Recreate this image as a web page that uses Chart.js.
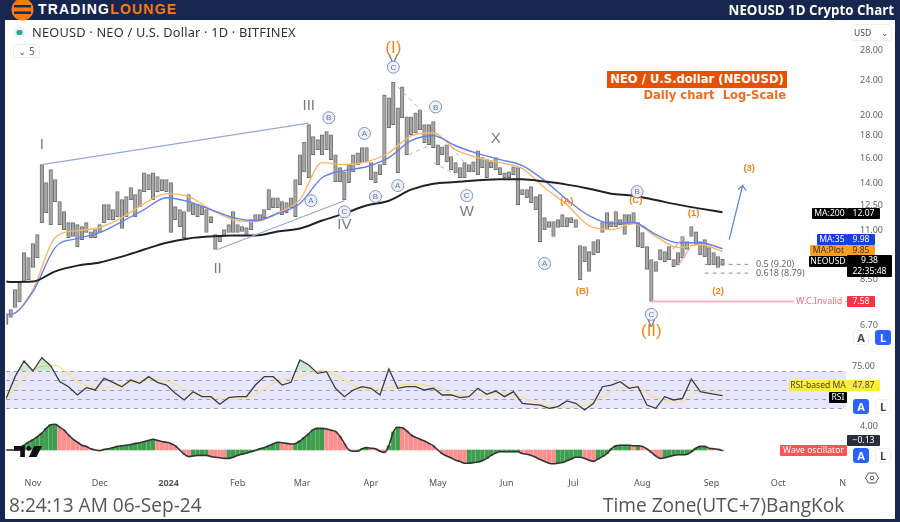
<!DOCTYPE html>
<html>
<head>
<meta charset="utf-8">
<title>NEOUSD 1D Crypto Chart</title>
<script src="https://cdn.jsdelivr.net/npm/chart.js@4/dist/chart.umd.min.js"></script>
<style>
  html, body { margin: 0; padding: 0; background: #fff; }
  #page { position: relative; width: 900px; height: 522px; overflow: hidden; font-family: "Open Sans", sans-serif; background: #fff; filter: blur(.35px); }
  canvas { position: absolute; left: 0; top: 0; }
  .frame { position: absolute; background: #16264f; }
  .t { position: absolute; white-space: nowrap; }
  .box { position: absolute; white-space: nowrap; text-align: center; font-size: 8.6px; line-height: 11px; height: 11px; border-radius: 1px; font-family: "Noto Sans", sans-serif; }
  .btn { position: absolute; width: 16px; height: 15px; border-radius: 3px; text-align: center; font: bold 11px/15px "Noto Sans", sans-serif; }
  .on { background: #2962ff; color: #fff; }
  .off { background: #fff; color: #444; border: 1px solid #eee; box-sizing: border-box; line-height: 13px; }
</style>
</head>
<body>
<div id="page">
  <canvas id="chart" width="900" height="522"></canvas>

  <div class="frame" style="left:0;top:0;width:900px;height:20px"></div>
  <div class="frame" style="left:0;top:0;width:5px;height:522px"></div>
  <div class="frame" style="left:895px;top:0;width:5px;height:522px"></div>
  <div class="frame" style="left:0;top:519px;width:900px;height:3px"></div>

  <svg style="position:absolute;left:11px;top:0" width="24" height="21" viewBox="0 0 24 21">
    <circle cx="11.5" cy="9.5" r="11" fill="#f47a12"/>
    <rect x="3" y="5" width="17" height="2.4" fill="#16264f"/>
    <rect x="3" y="11.5" width="17" height="2.4" fill="#16264f"/>
  </svg>
  <div class="t" style="left:38px;top:0;font:bold 14px/19px 'Liberation Sans',sans-serif;letter-spacing:1.2px;color:#fff">TRADING<span style="color:#f47a12">LOUNGE</span></div>
  <div class="t" style="right:6px;top:0;font:bold 13.3px/21px 'Open Sans',sans-serif;color:#fff">NEOUSD 1D Crypto Chart</div>

  <svg style="position:absolute;left:13px;top:26px" width="13" height="13" viewBox="0 0 13 13">
    <circle cx="6.5" cy="6.5" r="6" fill="#eef2f5"/><rect x="3.5" y="4" width="6" height="5" rx="2" fill="#1fae8c"/>
  </svg>
  <div class="t" style="left:32px;top:24px;font:12.8px/17px 'Noto Sans',sans-serif;color:#333;letter-spacing:.2px">NEOUSD · NEO / U.S. Dollar · 1D · BITFINEX</div>
  <div class="t" style="left:13px;top:44px;width:27px;height:14px;border:1px solid #eee;border-radius:3px;box-sizing:border-box;font:10px/12px 'Noto Sans',sans-serif;color:#666;text-align:center">⌄ 5</div>
  <div class="t" style="left:851px;top:24px;width:41px;height:17px;box-sizing:border-box;border:1px solid #f0f0f0;border-radius:3px;font:8.5px/15px 'Noto Sans',sans-serif;color:#444;padding-left:2px">USD <span style="margin-left:8px">⌄</span></div>

  <div class="t" style="left:607px;top:71px;width:180px;height:17px;background:#e65100;color:#fff;font:bold 11.6px/17px 'DejaVu Sans',sans-serif;text-align:center">NEO / U.S.dollar (NEOUSD)</div>
  <div class="t" style="right:114px;top:87px;color:#f26a21;font:bold 11.6px/16px 'DejaVu Sans',sans-serif;white-space:pre">Daily chart  Log-Scale</div>

  <div class="t" style="left:756px;top:258px;font:9px/12px 'Noto Sans',sans-serif;color:#666">0.5 (9.20)</div>
  <div class="t" style="left:756px;top:267px;font:9px/12px 'Noto Sans',sans-serif;color:#666">0.618 (8.79)</div>
  <div class="t" style="left:796px;top:295px;font:9px/12px 'Noto Sans',sans-serif;color:#f2707c">W.C.Invalid -</div>

  <div class="box" style="left:812px;top:208px;width:35px;background:#000;color:#fff">MA:200</div>
  <div class="box" style="left:847px;top:208px;width:33px;background:#000;color:#fff">12.07</div>
  <div class="box" style="left:817px;top:234px;width:30px;background:#1a3fe0;color:#fff">MA:35</div>
  <div class="box" style="left:847px;top:234px;width:28px;background:#1a3fe0;color:#fff">9.98</div>
  <div class="box" style="left:810px;top:245px;width:37px;background:#ff9f1c;color:#333">MA:Plot</div>
  <div class="box" style="left:847px;top:245px;width:28px;background:#ff9f1c;color:#333">9.85</div>
  <div class="box" style="left:809px;top:256px;width:38px;background:#000;color:#fff">NEOUSD</div>
  <div class="box" style="left:847px;top:255px;width:45px;height:22px;background:#000;color:#fff">9.38<br>22:35:48</div>
  <div class="box" style="left:847px;top:296px;width:28px;background:#f23645;color:#fff">7.58</div>

  <div class="box" style="left:789px;top:380px;width:58px;background:#ffeb3b;color:#444">RSI-based MA</div>
  <div class="box" style="left:847px;top:380px;width:33px;background:#ffeb3b;color:#444">47.87</div>
  <div class="box" style="left:829px;top:392px;width:18px;background:#000;color:#fff">RSI</div>
  <div class="box" style="left:847px;top:435px;width:33px;background:#2a2e39;color:#fff">−0.13</div>
  <div class="box" style="left:780px;top:445px;width:67px;background:#ff5252;color:#fff">Wave oscillator</div>

  <div class="btn off" style="left:853px;top:330px">A</div>
  <div class="btn on" style="left:875px;top:330px">L</div>
  <div class="btn on" style="left:853px;top:399px">A</div>
  <div class="btn off" style="left:875px;top:399px">L</div>
  <div class="btn on" style="left:853px;top:448px">A</div>
  <div class="btn off" style="left:875px;top:448px">L</div>

  <svg style="position:absolute;left:14px;top:445px" width="28" height="13" viewBox="0 0 36 14">
    <path d="M0 0h14v14h-6v-8h-8z M26 0h10l-7 14h-10z" fill="#111"/><circle cx="19" cy="3" r="3" fill="#111"/>
  </svg>
  <svg style="position:absolute;left:865px;top:472px" width="14" height="12" viewBox="0 0 14 12">
    <path d="M3.5 1h7L13.5 6l-3 5h-7L.5 6z" fill="none" stroke="#555"/><circle cx="7" cy="6" r="1.8" fill="none" stroke="#555"/>
  </svg>

  <div class="t" style="left:9px;top:491px;font:19.1px/28px 'Open Sans',sans-serif;color:#555">8:24:13 AM 06-Sep-24</div>
  <div class="t" style="left:603px;top:491px;font:19.1px/28px 'Open Sans',sans-serif;color:#555">Time Zone(UTC+7)BangKok</div>
</div>

<script>
// days are counted from 1 Nov 2023
var monthDays = [0, 30, 61, 92, 121, 152, 182, 213, 243, 274, 305, 335, 364];
var monthLabels = ["Nov", "Dec", "2024", "Feb", "Mar", "Apr", "May", "Jun", "Jul", "Aug", "Sep", "Oct", "N"];
var priceTicks = [28, 24, 20, 18, 16, 14, 12.5, 11, 8.5, 6.7];

// one bar per two days, starting 20 Oct 2023
var priceHighs = [7.09, 7.27, 8.07, 8.37, 9.78, 9.53, 10.25, 10.75, 15.47, 14.08, 15.07, 14.31, 12.76, 12.12, 11.44, 11.44, 11.32, 11.2, 11.44, 10.9, 11.03, 11.32, 12.56, 12.56, 12.24, 13.44, 12.89, 13.09, 13.72, 13.23, 13.58, 14.83, 14.68, 14.83, 14.53,
  14.31, 14.31, 14.08, 12.43, 12.24, 12.12, 13.23, 12.63, 12.56, 12.43, 12.24, 11.8, 10.75, 10.64, 11.03, 11.32, 12.12, 11.32, 11.2, 11.15, 11.62, 11.92, 11.92, 12.24, 13.58, 13.02, 13.02, 12.76, 12.69, 13.02, 14.31, 16.29, 17.39, 19.05, 17.9, 17.62, 18.08, 18.37, 18.08, 16.29, 15.23, 14.9, 15.47, 16.29, 16.46, 16.9, 16.9, 15.63, 14.9, 15.47, 22.26, 21.9, 23.8, 20.8, 23.2, 19.85, 19.85, 20.26, 20.59, 19.05, 19.05, 19.35, 17.16, 16.98, 17.16,
  16.13, 15.63, 15.23, 15.63, 15.47, 15.7, 16.63, 16.04, 15.88, 15.7, 16.04, 15.23, 14.83, 14.9, 15.3, 15.23, 13.58, 13.58, 13.8, 13.09, 13.23, 11.74, 11.5, 11.5, 11.62, 11.92, 11.74, 11.74, 11.62, 10.15, 10.1, 9.83, 10.36, 10.47, 11.44, 12.05, 11.5, 12.12, 11.62, 11.92, 11.92, 12.05, 11.44, 10.86, 10.09, 9.43, 9.33, 9.94, 9.83, 10.09, 9.43, 9.78, 10.64, 10.36, 11.2, 10.9, 10.36, 10.47, 10.04, 9.78, 9.58, 9.45];
var priceLows = [6.73, 6.98, 7.35, 7.56, 8.41, 8.5, 9.05, 9.53, 11.44, 12.05, 11.32, 12.76, 11.32, 11.03, 10.58, 10.64, 10.09, 10.47, 10.86, 10.58, 10.58, 10.86, 11.44, 11.62, 11.62, 11.8, 11.09, 11.8, 12.89, 11.8, 12.43, 13.44, 13.58, 12.89, 13.44,
  13.5, 13.44, 10.86, 11.62, 11.2, 10.58, 12.12, 11.92, 11.8, 11.92, 10.86, 11.44, 9.94, 10.36, 10.64, 10.86, 10.86, 10.86, 10.92, 10.75, 11.03, 11.5, 11.62, 11.74, 12.24, 12.37, 12.37, 11.92, 12.05, 12.37, 11.8, 13.94, 14.9, 14.45, 16.29, 16.72, 16.29, 16.72, 15.88, 14.16, 14.16, 12.89, 14.08, 14.9, 15.47, 15.63, 15.7, 14.31, 14.08, 14.68, 15.47, 18.75, 19.05, 14.83, 19.75, 16.29, 18.08, 18.27, 18.56, 17.34, 17.16, 16.9, 15.47, 16.29, 15.7,
  15.07, 14.83, 14.45, 14.45, 14.9, 14.9, 14.68, 15.23, 14.45, 15.23, 15.07, 14.68, 14.45, 14.45, 14.68, 12.56, 13.23, 13.02, 12.69, 12.24, 10.36, 11.03, 11.15, 10.64, 11.15, 11.2, 11.2, 11.44, 11.15, 8.5, 9.33, 8.87, 9.68, 9.78, 10.86, 11.03, 11.2, 11.2, 11.32, 10.75, 11.32, 11.44, 10.09, 10.04, 8.96, 7.58, 8.87, 9.43, 9.33, 9.43, 9.09, 9.19, 9.53, 9.94, 10.64, 10.2, 9.68, 9.58, 9.19, 9.19, 9.05, 9.15];

// moving averages and the RSI average, read every ten days
var maDays = [-12, -10, 0, 10, 20, 30, 40, 50, 60, 70, 80, 90, 100, 110, 120, 130, 140, 150, 160, 170, 180, 190, 200, 210, 220, 230, 240, 250, 260, 270, 280, 290, 300, 310];
var ma35 = [7.09, 7.09, 7.98, 10.04, 10.53, 10.86, 11.5, 12.24, 13.02, 12.76, 12.24, 11.74, 11.56, 11.98, 12.63, 14.45, 15, 15.3, 16.04, 17.53, 17.98, 17.07, 16.38, 15.88, 15.39, 14.23, 12.89, 11.86, 11.38, 11.44, 10.75, 10.3, 10.3, 9.98];
var maPlot = [7.09, 7.09, 8.07, 10.58, 10.97, 11.15, 11.74, 12.63, 13.3, 13.09, 12.24, 11.62, 11.5, 12.05, 12.89, 15.63, 15.47, 15.7, 16.46, 17.98, 18.27, 16.72, 16.04, 15.63, 15.15, 13.72, 12.56, 11.26, 11.03, 11.38, 10.64, 10.04, 10.2, 9.85];
var ma200 = [8.41, 8.39, 8.41, 8.87, 9.14, 9.29, 9.58, 9.94, 10.3, 10.53, 10.64, 10.7, 10.7, 10.92, 11.09, 11.56, 12, 12.5, 12.82, 13.58, 14, 14.13, 14.26, 14.34, 14.34, 14.16, 13.94, 13.65, 13.3, 13.16, 12.86, 12.56, 12.3, 12.07];
var rsiMa = [41.1, 46.5, 71.3, 75.9, 58.9, 51.8, 56, 61, 59.6, 48.9, 42.9, 40.1, 45.4, 58.9, 64.2, 70.9, 60.6, 50, 52.5, 56.4, 53.5, 44.7, 44, 47.2, 41.8, 34, 31.6, 35.8, 48.2, 53.9, 41.8, 36.9, 48.6, 47.87];

// RSI read every four days, the last point is 6 Sep
var rsiValues = [41.1, 64.2, 80.9, 70.2, 84.4, 75.9, 58.9, 53.5, 44.7, 52.5, 50, 62.4, 58.2, 53.5, 60.6, 57.1, 64.2, 58.2, 55.3, 46.5, 39.4, 48.2, 42.9, 42.9, 34.8, 41.8, 42.9, 42.9, 55.3, 64.2, 64.2, 55.3, 58.2, 81.9, 76.6, 67.7, 69.5, 51.8, 42.9, 50, 53.5, 51.8, 44.7, 72.3, 51.8, 53.5, 53.5, 50, 51.8, 44.7,
  44.7, 41.8, 42.9, 51.8, 45.4, 48.9, 42.9, 48.2, 35.8, 34.8, 34, 30.5, 32.3, 38.3, 35.8, 28.7, 35.8, 53.5, 55.3, 58.9, 51.8, 53.5, 34, 30.5, 42.9, 39.4, 41.1, 61.7, 48.2, 46.5, 44.7, 44];
var rsiLevels = [30, 40, 50, 60, 70, 75];

// wave oscillator, same days as the price bars
var oscValues = [0, 0, 0, .4, .8, 1.3, 1.7, 2.2, 2.8, 3.6, 4.2, 4.3, 3.8, 3.3, 2.5, 1.8, 1.3, .8, .6, .2, 0, -.1, .1, .2, .4, .6, .7, .8, .9, 1.1, 1.2, 1.4, 1.6, 1.8, 1.6, 1.4, 1.3, 1.1, .7, 0, -.7, -1.1, -1, -.9, -.9, -.9, -1.1, -1.2, -1.3, -1.4, -1.4, -1.2, -.9, -.7, -.5, -.3, -.1, .2, .4, .7, 1, 1.3, 1.2, 1.1, 1, 1.1, 1.5, 2.1, 2.7, 3.4, 3.6, 3.6, 3.5, 3.3, 3.1, 2.3, 1.1, 0, -.2, -.2, .2, .4, .3, .2, -.2, -.4, .7, 3, 3.8, 3.7, 3.2, 2.5, 2.1, 1.8, 1.5, 1.1, .7, 0, -.6, -1,
  -1.3, -1.7, -1.9, -2.2, -2.2, -2.1, -2, -1.8, -1.4, -.9, -.5, -.3, -.3, -.3, -.3, -.3, -.6, -.7, -.9, -1.2, -1.6, -1.9, -2.2, -2.3, -2.2, -2.1, -1.8, -1.5, -1.2, -1.2, -1.4, -1.7, -1.9, -1.5, -1.1, -.6, .2, .7, .8, .8, .8, .7, .7, .6, .2, -.4, -1, -1.4, -1.3, -1.1, -.9, -.8, -.8, -.7, -.3, .3, .6, .6, .3, .2, .1, -.13];

// wave labels
var romanTexts = ["I", "II", "III", "IV", "V", "W", "X", "V"];
var romanDays = [4, 83, 124, 140, 278, 195, 208, 162];
var romanPrices = [17.16, 9, 21, 11.32, 6.78, 12.1, 17.7, 26.7];
var circleTexts = ["B", "A", "C", "B", "A", "C", "B", "A", "C", "B", "A", "C"];
var circleDays = [133, 149, 162, 181, 125, 140, 154, 164, 195, 271.6, 230, 278];
var circlePrices = [19.75, 18.2, 25.7, 20.9, 12.82, 12.1, 13.1, 13.87, 13.16, 13.44, 9.24, 7.09];
var bigTexts = ["(I)", "(II)"];
var bigDays = [162, 278];
var bigPrices = [28.4, 6.5];
var smallTexts = ["(A)", "(B)", "(C)", "(1)", "(2)", "(3)"];
var smallDays = [240, 247, 271, 297, 308, 322];
var smallPrices = [12.76, 7.98, 12.82, 12, 8, 15.2];

// drawn lines
var impulseLines = [[[4, 124], [15.47, 19.2]], [[83, 140], [9.94, 12.82]]];
var channelLines = [[[164, 175], [23.2, 20.4]], [[180, 190], [15.63, 14.7]], [[169, 177], [16.3, 16.98]], [[188, 194], [17, 15.6]]];
var pinkLines = [[[287.5, 293], [9.94, 10.64]], [[290, 295.5], [9.14, 10.04]]];
var fibLines = [[[302, 321.5], [9.2, 9.2]], [[302, 321.5], [8.79, 8.79]]];
var invalidDays = [278, 342];
var invalidPrices = [7.58, 7.58];
var arrowDays = [313, 319, 317, 319, 320.6];
var arrowPrices = [10.47, 13.87, 13.58, 13.87, 13.51];

var FIRST_DAY = -12;
var X_MIN = -12.1, X_MAX = 365.5;
var LABEL_FONT = "'Liberation Sans', sans-serif";

function xy(days, values) {
  return values.map(function (v, i) { return { x: days[i], y: v }; });
}

function lineSet(days, values, axis, color, width, extra) {
  var ds = {
    type: "line", data: xy(days, values), yAxisID: axis, borderColor: color, borderWidth: width,
    pointRadius: 0, pointHoverRadius: 0, fill: false, tension: 0
  };
  for (var k in extra || {}) ds[k] = extra[k];
  return ds;
}

var barDays = priceHighs.map(function (v, i) { return FIRST_DAY + 2 * i; });
var rsiDays = rsiValues.map(function (v, i) { return Math.min(FIRST_DAY + 4 * i, 310); });

var datasets = [];
datasets.push(lineSet(arrowDays, arrowPrices, "y", "#5c80cf", 1.2));
impulseLines.forEach(function (l) { datasets.push(lineSet(l[0], l[1], "y", "#94a8d8", 1.2)); });
channelLines.forEach(function (l) { datasets.push(lineSet(l[0], l[1], "y", "#a9b4cc", 1, { borderDash: [4, 4] })); });
pinkLines.forEach(function (l) { datasets.push(lineSet(l[0], l[1], "y", "#f4a9ad", 1.2)); });
fibLines.forEach(function (l) { datasets.push(lineSet(l[0], l[1], "y", "#8a8a8a", 1, { borderDash: [4, 4] })); });
datasets.push(lineSet(invalidDays, invalidPrices, "y", "#f9b4bb", 2));
datasets.push(lineSet(maDays, ma200, "y", "#222222", 2, { cubicInterpolationMode: "monotone" }));
datasets.push(lineSet(maDays, ma35, "y", "#6480ee", 1.4, { cubicInterpolationMode: "monotone" }));
datasets.push(lineSet(maDays, maPlot, "y", "#f8b768", 1.4, { cubicInterpolationMode: "monotone" }));
datasets.push({
  type: "bar", yAxisID: "y", grouped: false, barThickness: 3.6, borderWidth: 1,
  borderColor: "#707070", backgroundColor: "#a8a8a8", borderSkipped: false,
  data: barDays.map(function (d, i) { return { x: d, y: [priceLows[i], priceHighs[i]] }; })
});

datasets.push(lineSet(rsiDays, rsiValues, "rsi", "#3b3b3b", 1.3, {
  fill: { target: { value: 70 }, above: "rgba(76,175,80,.28)", below: "rgba(0,0,0,0)" }
}));
datasets.push(lineSet(maDays, rsiMa, "rsi", "#f3e58c", 1.3, { cubicInterpolationMode: "monotone" }));
datasets.push(lineSet([X_MIN, X_MAX], [70, 70], "rsi", "rgba(0,0,0,0)", 0, {
  fill: { target: { value: 30 }, below: "rgba(118,104,236,.17)", above: "rgba(118,104,236,.17)" }
}));

datasets.push(lineSet(barDays, oscValues, "osc", "#333333", 1.6, { cubicInterpolationMode: "monotone" }));
datasets.push({
  type: "bar", yAxisID: "osc", grouped: false, barThickness: 3.7, borderWidth: 0,
  data: xy(barDays, oscValues),
  backgroundColor: oscValues.map(function (v, i) {
    return i > 0 && v < oscValues[i - 1] ? "#ff8f8f" : "#3f9e4d";
  })
});

function put(ctx, chart, text, day, price) {
  ctx.fillText(text, chart.scales.x.getPixelForValue(day), chart.scales.y.getPixelForValue(price));
}

var waveLabels = {
  id: "waveLabels",
  afterDatasetsDraw: function (chart) {
    var ctx = chart.ctx;
    ctx.save();
    ctx.textAlign = "center";
    ctx.textBaseline = "middle";

    ctx.fillStyle = "#7b7b7b";
    ctx.font = "15px " + LABEL_FONT;
    romanTexts.forEach(function (t, i) { put(ctx, chart, t, romanDays[i], romanPrices[i]); });

    ctx.fillStyle = "#f2851e";
    ctx.font = "17px " + LABEL_FONT;
    bigTexts.forEach(function (t, i) { put(ctx, chart, t, bigDays[i], bigPrices[i]); });

    ctx.font = "bold 9.5px " + LABEL_FONT;
    smallTexts.forEach(function (t, i) { put(ctx, chart, t, smallDays[i], smallPrices[i]); });

    circleTexts.forEach(function (t, i) {
      var x = chart.scales.x.getPixelForValue(circleDays[i]);
      var y = chart.scales.y.getPixelForValue(circlePrices[i]);
      ctx.beginPath();
      ctx.arc(x, y, 6, 0, Math.PI * 2);
      ctx.fillStyle = "#eef1f9";
      ctx.fill();
      ctx.strokeStyle = "#7d92c2";
      ctx.lineWidth = 1;
      ctx.stroke();
      ctx.fillStyle = "#5f75a8";
      ctx.font = "8px " + LABEL_FONT;
      ctx.fillText(t, x, y + 0.5);
    });
    ctx.restore();
  }
};

new Chart(document.getElementById("chart"), {
  type: "bar",
  data: { datasets: datasets },
  plugins: [waveLabels],
  options: {
    responsive: false,
    animation: false,
    events: [],
    layout: { padding: { left: 6, top: 21, right: 5, bottom: 32 } },
    plugins: { legend: { display: false }, tooltip: { enabled: false } },
    scales: {
      x: {
        type: "linear", min: X_MIN, max: X_MAX, offset: false,
        grid: { display: false }, border: { display: false },
        afterBuildTicks: function (s) { s.ticks = monthDays.map(function (d) { return { value: d }; }); },
        afterFit: function (s) { s.height = 22; },
        ticks: {
          autoSkip: false, maxRotation: 0, padding: 2, color: "#555",
          font: function (c) {
            return { family: "'Noto Sans', sans-serif", size: 9, weight: monthLabels[c.index] === "2024" ? "bold" : "normal" };
          },
          callback: function (v, i) { return monthLabels[i]; }
        }
      },
      y: {
        type: "logarithmic", position: "right", min: 5.95, max: 32.7,
        stack: "panes", stackWeight: 327, weight: 0,
        grid: { display: false }, border: { display: false },
        afterBuildTicks: function (s) { s.ticks = priceTicks.map(function (v) { return { value: v }; }); },
        afterFit: function (s) { s.width = 49; },
        ticks: {
          autoSkip: false, padding: 6, color: "#666", font: { family: "'Noto Sans', sans-serif", size: 9 },
          callback: function (v) { return Number(v).toFixed(2); }
        }
      },
      rsi: {
        type: "linear", position: "right", min: 20.2, max: 94.7,
        stack: "panes", stackWeight: 70, weight: 1,
        border: { display: false, dash: [4, 4] },
        grid: {
          drawTicks: false,
          color: function (c) { return c.tick && c.tick.value === 75 ? "rgba(0,0,0,0)" : "#9a9aac"; },
          lineWidth: 0.9
        },
        afterBuildTicks: function (s) { s.ticks = rsiLevels.map(function (v) { return { value: v }; }); },
        afterFit: function (s) { s.width = 49; },
        ticks: {
          autoSkip: false, padding: 6, color: "#666", font: { family: "'Noto Sans', sans-serif", size: 9 },
          callback: function (v) { return v === 75 ? "75.00" : ""; }
        }
      },
      osc: {
        type: "linear", position: "right", min: -3, max: 5.33,
        stack: "panes", stackWeight: 50, weight: 2,
        grid: { display: false }, border: { display: false },
        afterBuildTicks: function (s) { s.ticks = [{ value: 4 }]; },
        afterFit: function (s) { s.width = 49; },
        ticks: {
          autoSkip: false, padding: 6, color: "#666", font: { family: "'Noto Sans', sans-serif", size: 9 },
          callback: function (v) { return Number(v).toFixed(2); }
        }
      }
    }
  }
});
</script>
</body>
</html>
